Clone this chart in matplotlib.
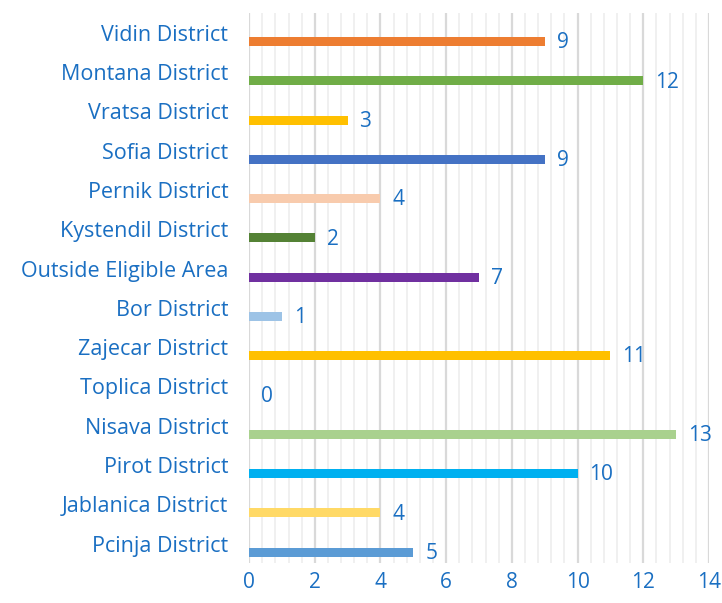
import numpy as np
import matplotlib
matplotlib.use("Agg")
import matplotlib.pyplot as plt
from matplotlib.ticker import MultipleLocator

# categories listed bottom to top
districts = ["Pcinja District", "Jablanica District", "Pirot District", "Nisava District",
             "Toplica District", "Zajecar District", "Bor District", "Outside Eligible Area",
             "Kystendil District", "Pernik District", "Sofia District", "Vratsa District",
             "Montana District", "Vidin District"]
counts = [5, 4, 10, 13, 0, 11, 1, 7, 2, 4, 9, 3, 12, 9]
bar_colors = ["#5B9BD5", "#FFD966", "#00B0F0", "#A9D18E", "#A5A5A5", "#FFC000", "#9DC3E6",
              "#7030A0", "#548235", "#F8CBAD", "#4472C4", "#FFC000", "#70AD47", "#ED7D31"]
x_ticks = [0, 2, 4, 6, 8, 10, 12, 14]

txt_color = "#1A6FC2"
plt.rcParams["font.family"] = ["Open Sans", "DejaVu Sans"]

fig = plt.figure(figsize=(7.22, 6.03), dpi=100)
ax = fig.add_axes([0.345, 0.066, 0.637, 0.912])

ypos = np.arange(len(districts))
offset = 0.22
ax.barh(ypos - offset, counts, height=0.23, color=bar_colors, zorder=3)

for y, v in zip(ypos, counts):
    ax.text(v + 0.36, y - offset - 0.03, str(v), va="center", ha="left",
            fontsize=15, color=txt_color)

ax.set_xlim(0, 14)
ax.set_ylim(-0.5, len(districts) - 0.5)
ax.set_yticks(ypos)
ax.set_yticklabels(districts, fontsize=15.5, color=txt_color)
ax.set_xticks(x_ticks)
ax.set_xticklabels([str(t) for t in x_ticks], fontsize=15, color=txt_color)
ax.xaxis.set_minor_locator(MultipleLocator(0.4))
ax.grid(axis="x", which="major", color="#D9D9D9", linewidth=1.6, zorder=0)
ax.grid(axis="x", which="minor", color="#EDEDED", linewidth=1.2, zorder=0)
ax.tick_params(axis="both", which="both", length=0)
ax.tick_params(axis="y", pad=15)
ax.tick_params(axis="x", pad=6)
for s in ax.spines.values():
    s.set_visible(False)

fig.savefig("out.png", dpi=100)
